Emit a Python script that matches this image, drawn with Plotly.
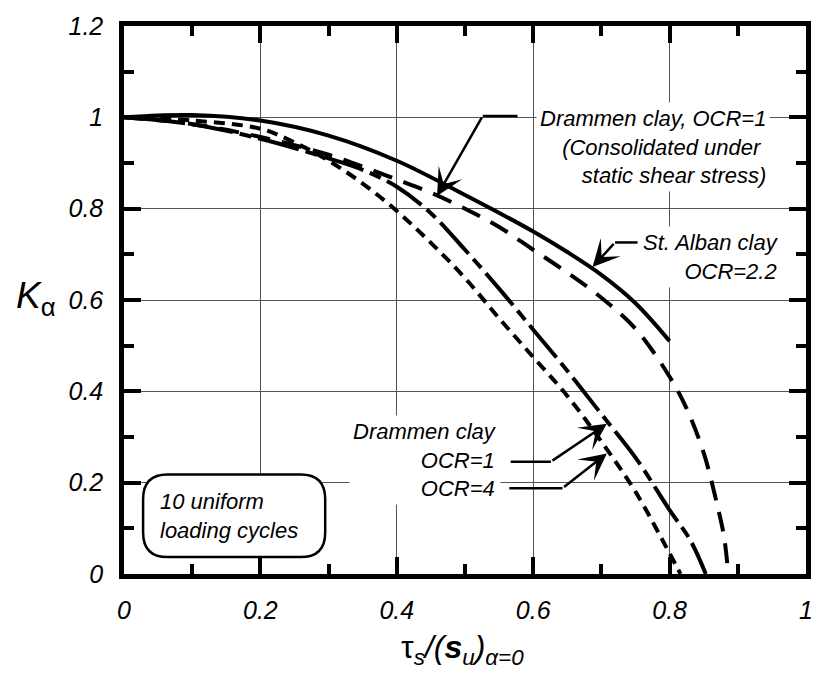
import plotly.graph_objects as go

# ---------------- data ----------------
stalban_x = [0, 0.05, 0.1, 0.2, 0.3, 0.4, 0.5, 0.6, 0.65, 0.7, 0.75, 0.8]
stalban_y = [1.0, 1.004, 1.005, 0.993, 0.96, 0.905, 0.83, 0.75, 0.705, 0.655, 0.593, 0.51]

dram_static_x = [0, 0.1, 0.2, 0.3, 0.35, 0.4, 0.45, 0.5, 0.55, 0.6, 0.65, 0.7, 0.75, 0.8, 0.825, 0.85, 0.87, 0.88, 0.886]
dram_static_y = [1.0, 0.985, 0.957, 0.918, 0.892, 0.864, 0.835, 0.80, 0.76, 0.71, 0.66, 0.605, 0.537, 0.432, 0.362, 0.265, 0.15, 0.08, 0.0]

dram_ocr1_x = [0, 0.1, 0.2, 0.3, 0.35, 0.4, 0.45, 0.5, 0.55, 0.6, 0.65, 0.7, 0.75, 0.8, 0.83, 0.853]
dram_ocr1_y = [1.0, 0.985, 0.953, 0.91, 0.885, 0.848, 0.79, 0.71, 0.625, 0.535, 0.445, 0.35, 0.255, 0.14, 0.075, 0.0]

dram_ocr4_x = [0, 0.1, 0.2, 0.25, 0.3, 0.35, 0.4, 0.45, 0.5, 0.55, 0.6, 0.65, 0.7, 0.75, 0.8, 0.816]
dram_ocr4_y = [1.0, 0.993, 0.975, 0.945, 0.905, 0.855, 0.795, 0.725, 0.648, 0.56, 0.475, 0.39, 0.29, 0.18, 0.045, 0.0]

x_ticks = [0, 0.2, 0.4, 0.6, 0.8, 1]
x_ticklabels = ["0", "0.2", "0.4", "0.6", "0.8", "1"]
y_ticks = [0, 0.2, 0.4, 0.6, 0.8, 1, 1.2]
y_ticklabels = ["0", "0.2", "0.4", "0.6", "0.8", "1", "1.2"]

FONT = "Liberation Sans, Arial, sans-serif"

fig = go.Figure()

def curve(x, y, dash):
    fig.add_trace(go.Scatter(x=x, y=y, mode="lines", showlegend=False,
                             line=dict(color="black", width=4, dash=dash,
                                       shape="spline", smoothing=1.0),
                             hoverinfo="skip"))

curve(stalban_x, stalban_y, "solid")
curve(dram_static_x, dram_static_y, "20px,12px")
curve(dram_ocr1_x, dram_ocr1_y, "42px,7px,12px,7px")
curve(dram_ocr4_x, dram_ocr4_y, "11px,7px")

axis_common = dict(
    showline=True, linecolor="black", linewidth=4.5, mirror="allticks",
    ticks="inside", ticklen=17, tickwidth=4, tickcolor="black",
    showgrid=True, gridcolor="#555555", gridwidth=1, zeroline=False,
    tickfont=dict(family=FONT, size=25, color="black", style="italic"),
    ticklabeloverflow="allow",
    minor=dict(ticks="inside", ticklen=10, tickwidth=4, tickcolor="black",
               dtick=0.1, showgrid=False),
)

fig.update_xaxes(range=[0, 1], tickvals=x_ticks, ticktext=x_ticklabels,
                 ticklabelstandoff=10, **axis_common)
fig.update_yaxes(range=[0, 1.2], tickvals=y_ticks, ticktext=y_ticklabels,
                 ticklabelstandoff=11, **axis_common)

# rounded box "10 uniform loading cycles"
bx0, bx1, by0, by1, rx, ry = 0.028, 0.295, 0.037, 0.218, 0.036, 0.054
path = (f"M {bx0+rx},{by1} L {bx1-rx},{by1} Q {bx1},{by1} {bx1},{by1-ry} "
        f"L {bx1},{by0+ry} Q {bx1},{by0} {bx1-rx},{by0} L {bx0+rx},{by0} "
        f"Q {bx0},{by0} {bx0},{by0+ry} L {bx0},{by1-ry} Q {bx0},{by1} {bx0+rx},{by1} Z")
fig.add_shape(type="path", path=path, xref="x", yref="y", layer="above",
              line=dict(color="black", width=2.5), fillcolor="white")

ann_font = dict(family=FONT, size=22, color="black", style="italic")

texts = [
    (0.947, 0.936, "Drammen clay, OCR=1<br>(Consolidated under <br>static shear stress)", "right"),
    (0.967, 0.695, "St. Alban clay<br>OCR=2.2", "right"),
    (0.553, 0.249, "Drammen clay<br>OCR=1<br>OCR=4", "right"),
]
for x, y, t, al in texts:
    fig.add_annotation(x=x, y=y, xref="x", yref="y", text=t, showarrow=False,
                       xanchor=al, yanchor="middle", align=al, font=ann_font,
                       bgcolor="white", borderpad=3)

fig.add_annotation(x=0.05, y=0.127, xref="x", yref="y",
                   text="10 uniform<br>loading cycles", showarrow=False,
                   xanchor="left", yanchor="middle", align="left", font=ann_font)

# leader lines: (start, knee, tip)
leaders = [
    ((0.577, 1.003), (0.526, 1.003), (0.459, 0.828)),
    ((0.753, 0.726), (0.72, 0.726), (0.687, 0.672)),
    ((0.567, 0.246), (0.626, 0.246), (0.708, 0.329)),
    ((0.565, 0.188), (0.643, 0.188), (0.708, 0.264)),
]
for s, k, t in leaders:
    fig.add_shape(type="line", x0=s[0], y0=s[1], x1=k[0], y1=k[1],
                  xref="x", yref="y", layer="above",
                  line=dict(color="black", width=2.5))
    fig.add_annotation(x=t[0], y=t[1], ax=k[0], ay=k[1], axref="x", ayref="y",
                       xref="x", yref="y", text="", showarrow=True,
                       arrowhead=3, arrowsize=1.8, arrowwidth=2.5,
                       arrowcolor="black", standoff=0)

# axis titles
fig.add_annotation(x=-0.129, y=0.503, xref="paper", yref="paper",
                   xanchor="center", yanchor="middle",
                   text="<i>K</i><sub>α</sub>", showarrow=False,
                   font=dict(family=FONT, size=37, color="black"))
fig.add_annotation(x=0.497, y=-0.137, xref="paper", yref="paper",
                   xanchor="center", yanchor="middle",
                   text="τ<sub><i>s</i></sub><i>/(</i><b><i>s</i></b><sub><i>u</i></sub><i>)</i><sub><i>α=0</i></sub>",
                   showarrow=False,
                   font=dict(family=FONT, size=32, color="black"))

fig.update_layout(
    width=809, height=661,
    margin=dict(l=116, r=4, t=11, b=95),
    plot_bgcolor="white", paper_bgcolor="white",
    showlegend=False,
)

fig.write_html("out.html")
